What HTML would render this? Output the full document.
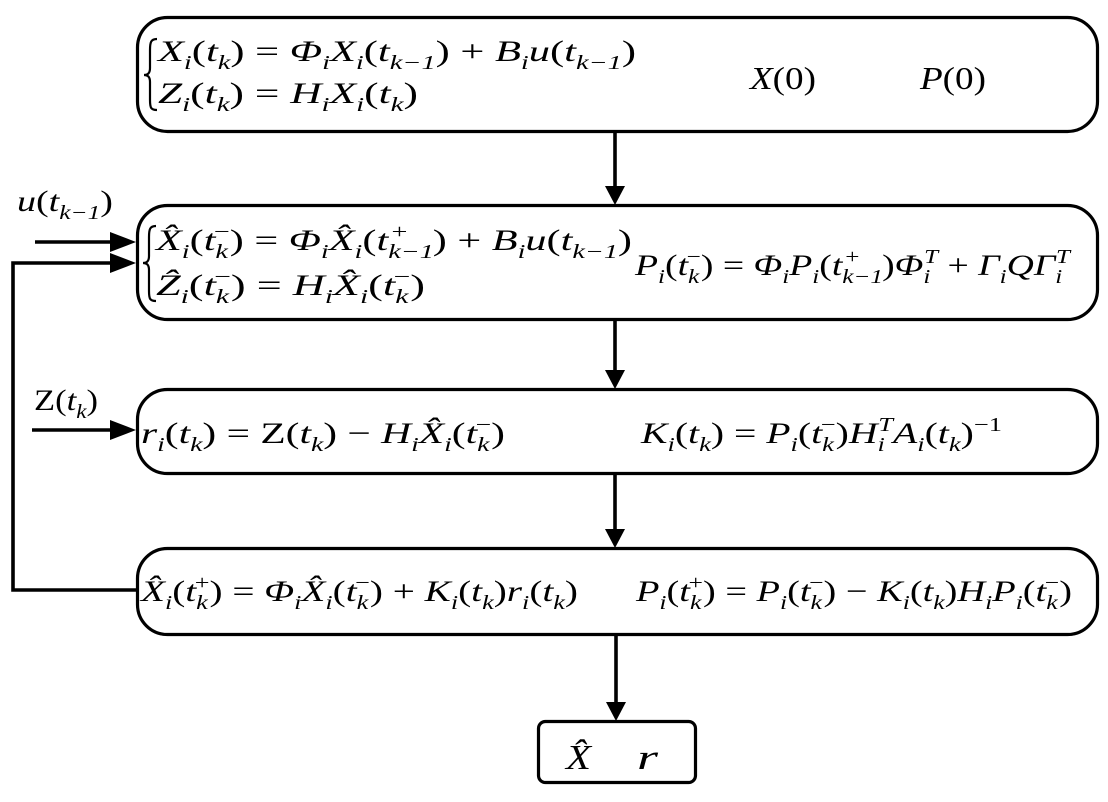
<!DOCTYPE html>
<html><head><meta charset="utf-8"><style>
html,body{margin:0;padding:0;background:#fff;}
svg{display:block}
.m{font-family:"Liberation Serif",serif;font-size:30px;font-style:italic;fill:#000}
.s{font-size:20px}
.u{font-style:normal}
.t{font-family:"Liberation Serif",serif;font-size:32px;font-style:italic;fill:#000}
.b{font-family:"Liberation Serif",serif;font-size:35px;font-style:italic;fill:#000}
</style></head><body>
<svg width="1108" height="802" viewBox="0 0 1108 802" xmlns="http://www.w3.org/2000/svg">
<g fill="none" stroke="#000" stroke-width="3.2">
<rect x="137.5" y="17.5" width="960" height="114" rx="30"/>
<rect x="137.5" y="205.5" width="960" height="114" rx="30"/>
<rect x="137.5" y="389.5" width="960" height="84" rx="30"/>
<rect x="137.5" y="548.5" width="960" height="86" rx="30"/>
<rect x="538.5" y="721.5" width="157" height="61" rx="7"/>
</g>
<g fill="none" stroke="#000" stroke-width="3.6">
<line x1="615" y1="132" x2="615" y2="190"/>
<line x1="615" y1="320" x2="615" y2="374"/>
<line x1="615" y1="474" x2="615" y2="533"/>
<line x1="616" y1="635" x2="616" y2="706"/>
<line x1="35" y1="242" x2="114" y2="242"/>
<polyline points="137,590 13,590 13,263 114,263"/>
<line x1="32" y1="430" x2="114" y2="430"/>
</g>
<g fill="#000">
<polygon points="605,186 625,186 615,205"/>
<polygon points="605,370 625,370 615,389"/>
<polygon points="605,529 625,529 615,548"/>
<polygon points="606,702 626,702 616,721"/>
<polygon points="110,232 110,252 136,242"/>
<polygon points="110,253 110,273 136,263"/>
<polygon points="110,420 110,440 136,430"/>
</g>
<g fill="none" stroke="#000" stroke-width="2.2">
<path d="M157,39 C151,39 150,42 150,50 L150,68 C150,73 148,75 144,75 C148,75 150,77 150,82 L150,100 C150,108 151,110 157,110"/>
<path d="M156,226 C150,226 149,229 149,237 L149,256 C149,261 147,263 143,263 C147,263 149,265 149,270 L149,291 C149,299 150,301 156,301"/>
</g>

<!-- Box 1 -->
<text class="m" x="158" y="61" textLength="478" lengthAdjust="spacingAndGlyphs">X<tspan class="s" dy="8">i</tspan><tspan class="u" dy="-8">(</tspan>t<tspan class="s" dy="8">k</tspan><tspan class="u" dy="-8">) = </tspan>Φ<tspan class="s" dy="8">i</tspan><tspan dy="-8">X</tspan><tspan class="s" dy="8">i</tspan><tspan class="u" dy="-8">(</tspan>t<tspan class="s" dy="8">k−1</tspan><tspan class="u" dy="-8">) + </tspan>B<tspan class="s" dy="8">i</tspan><tspan dy="-8">u</tspan><tspan class="u">(</tspan>t<tspan class="s" dy="8">k−1</tspan><tspan class="u" dy="-8">)</tspan></text>
<text class="m" x="158" y="103" textLength="260" lengthAdjust="spacingAndGlyphs">Z<tspan class="s" dy="8">i</tspan><tspan class="u" dy="-8">(</tspan>t<tspan class="s" dy="8">k</tspan><tspan class="u" dy="-8">) = </tspan>H<tspan class="s" dy="8">i</tspan><tspan dy="-8">X</tspan><tspan class="s" dy="8">i</tspan><tspan class="u" dy="-8">(</tspan>t<tspan class="s" dy="8">k</tspan><tspan class="u" dy="-8">)</tspan></text>
<text class="t" x="750" y="89" textLength="66" lengthAdjust="spacingAndGlyphs">X<tspan class="u">(0)</tspan></text>
<text class="t" x="920" y="89" textLength="66" lengthAdjust="spacingAndGlyphs">P<tspan class="u">(0)</tspan></text>

<!-- Box 2 -->
<text class="m" x="156" y="250" textLength="476" lengthAdjust="spacingAndGlyphs">X&#x0302;<tspan class="s" dy="8">i</tspan><tspan class="u" dy="-8">(</tspan>t<tspan class="s" dy="8">k</tspan><tspan class="s u" dx="-10" dy="-20">−</tspan><tspan class="u" dy="12">) = </tspan>Φ<tspan class="s" dy="8">i</tspan><tspan dy="-8">X&#x0302;</tspan><tspan class="s" dy="8">i</tspan><tspan class="u" dy="-8">(</tspan>t<tspan class="s" dy="8">k−1</tspan><tspan class="s u" dx="-30" dy="-20">+</tspan><tspan class="u" dx="18" dy="12">) + </tspan>B<tspan class="s" dy="8">i</tspan><tspan dy="-8">u</tspan><tspan class="u">(</tspan>t<tspan class="s" dy="8">k−1</tspan><tspan class="u" dy="-8">)</tspan></text>
<text class="m" x="156" y="295" textLength="269" lengthAdjust="spacingAndGlyphs">Z&#x0302;<tspan class="s" dy="8">i</tspan><tspan class="u" dy="-8">(</tspan>t<tspan class="s" dy="8">k</tspan><tspan class="s u" dx="-10" dy="-20">−</tspan><tspan class="u" dy="12">) = </tspan>H<tspan class="s" dy="8">i</tspan><tspan dy="-8">X&#x0302;</tspan><tspan class="s" dy="8">i</tspan><tspan class="u" dy="-8">(</tspan>t<tspan class="s" dy="8">k</tspan><tspan class="s u" dx="-10" dy="-20">−</tspan><tspan class="u" dy="12">)</tspan></text>
<text class="m" x="635" y="275" textLength="435" lengthAdjust="spacingAndGlyphs">P<tspan class="s" dy="8">i</tspan><tspan class="u" dy="-8">(</tspan>t<tspan class="s" dy="8">k</tspan><tspan class="s u" dx="-10" dy="-20">−</tspan><tspan class="u" dy="12">) = </tspan>Φ<tspan class="s" dy="8">i</tspan><tspan dy="-8">P</tspan><tspan class="s" dy="8">i</tspan><tspan class="u" dy="-8">(</tspan>t<tspan class="s" dy="8">k−1</tspan><tspan class="s u" dx="-30" dy="-20">+</tspan><tspan class="u" dx="18" dy="12">)</tspan>Φ<tspan class="s" dy="8">i</tspan><tspan class="s" dx="-5" dy="-20">T</tspan><tspan class="u" dy="12"> + </tspan>Γ<tspan class="s" dy="8">i</tspan><tspan dy="-8">QΓ</tspan><tspan class="s" dy="8">i</tspan><tspan class="s" dx="-5" dy="-20">T</tspan></text>

<!-- Box 3 -->
<text class="m" x="141" y="443" textLength="364" lengthAdjust="spacingAndGlyphs">r<tspan class="s" dy="8">i</tspan><tspan class="u" dy="-8">(</tspan>t<tspan class="s" dy="8">k</tspan><tspan class="u" dy="-8">) = Z(</tspan>t<tspan class="s" dy="8">k</tspan><tspan class="u" dy="-8">) − </tspan>H<tspan class="s" dy="8">i</tspan><tspan dy="-8">X&#x0302;</tspan><tspan class="s" dy="8">i</tspan><tspan class="u" dy="-8">(</tspan>t<tspan class="s" dy="8">k</tspan><tspan class="s u" dx="-10" dy="-20">−</tspan><tspan class="u" dy="12">)</tspan></text>
<text class="m" x="641" y="443" textLength="361" lengthAdjust="spacingAndGlyphs">K<tspan class="s" dy="8">i</tspan><tspan class="u" dy="-8">(</tspan>t<tspan class="s" dy="8">k</tspan><tspan class="u" dy="-8">) = </tspan>P<tspan class="s" dy="8">i</tspan><tspan class="u" dy="-8">(</tspan>t<tspan class="s" dy="8">k</tspan><tspan class="s u" dx="-10" dy="-20">−</tspan><tspan class="u" dy="12">)</tspan>H<tspan class="s" dy="8">i</tspan><tspan class="s" dx="-5" dy="-20">T</tspan><tspan dy="12">A</tspan><tspan class="s" dy="8">i</tspan><tspan class="u" dy="-8">(</tspan>t<tspan class="s" dy="8">k</tspan><tspan class="u" dy="-8">)</tspan><tspan class="s u" dy="-12">−1</tspan></text>

<!-- Box 4 -->
<text class="m" x="141" y="601" textLength="437" lengthAdjust="spacingAndGlyphs">X&#x0302;<tspan class="s" dy="8">i</tspan><tspan class="u" dy="-8">(</tspan>t<tspan class="s" dy="8">k</tspan><tspan class="s u" dx="-10" dy="-20">+</tspan><tspan class="u" dy="12">) = </tspan>Φ<tspan class="s" dy="8">i</tspan><tspan dy="-8">X&#x0302;</tspan><tspan class="s" dy="8">i</tspan><tspan class="u" dy="-8">(</tspan>t<tspan class="s" dy="8">k</tspan><tspan class="s u" dx="-10" dy="-20">−</tspan><tspan class="u" dy="12">) + </tspan>K<tspan class="s" dy="8">i</tspan><tspan class="u" dy="-8">(</tspan>t<tspan class="s" dy="8">k</tspan><tspan class="u" dy="-8">)</tspan>r<tspan class="s" dy="8">i</tspan><tspan class="u" dy="-8">(</tspan>t<tspan class="s" dy="8">k</tspan><tspan class="u" dy="-8">)</tspan></text>
<text class="m" x="636" y="601" textLength="436" lengthAdjust="spacingAndGlyphs">P<tspan class="s" dy="8">i</tspan><tspan class="u" dy="-8">(</tspan>t<tspan class="s" dy="8">k</tspan><tspan class="s u" dx="-10" dy="-20">+</tspan><tspan class="u" dy="12">) = </tspan>P<tspan class="s" dy="8">i</tspan><tspan class="u" dy="-8">(</tspan>t<tspan class="s" dy="8">k</tspan><tspan class="s u" dx="-10" dy="-20">−</tspan><tspan class="u" dy="12">) − </tspan>K<tspan class="s" dy="8">i</tspan><tspan class="u" dy="-8">(</tspan>t<tspan class="s" dy="8">k</tspan><tspan class="u" dy="-8">)</tspan>H<tspan class="s" dy="8">i</tspan><tspan dy="-8">P</tspan><tspan class="s" dy="8">i</tspan><tspan class="u" dy="-8">(</tspan>t<tspan class="s" dy="8">k</tspan><tspan class="s u" dx="-10" dy="-20">−</tspan><tspan class="u" dy="12">)</tspan></text>

<!-- Box 5 -->
<text class="b" x="566" y="769" textLength="25" lengthAdjust="spacingAndGlyphs">X&#x0302;</text>
<text class="b" x="637" y="769" textLength="21" lengthAdjust="spacingAndGlyphs">r</text>

<!-- Input labels -->
<text class="m" x="17" y="211" textLength="96" lengthAdjust="spacingAndGlyphs">u<tspan class="u">(</tspan>t<tspan class="s" dy="8">k−1</tspan><tspan class="u" dy="-8">)</tspan></text>
<text class="m" x="34" y="410" textLength="64" lengthAdjust="spacingAndGlyphs"><tspan class="u">Z(</tspan>t<tspan class="s" dy="8">k</tspan><tspan class="u" dy="-8">)</tspan></text>
</svg>
</body></html>
